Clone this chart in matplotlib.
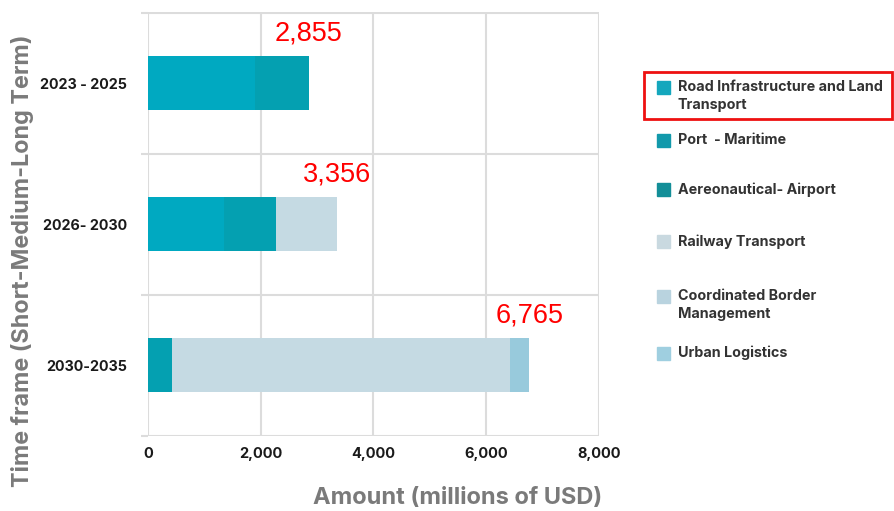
import matplotlib
matplotlib.use("Agg")
import matplotlib.pyplot as plt
from matplotlib.patches import Rectangle
import numpy as np

# Investment timeframes and amounts per sector (millions of USD)
periods = ["2023 - 2025", "2026- 2030", "2030-2035"]
sectors = [
    "Road Infrastructure and Land\nTransport",
    "Port  - Maritime",
    "Aereonautical- Airport",
    "Railway Transport",
    "Coordinated Border\nManagement",
    "Urban Logistics",
]
road = [1900, 1340, 0]
port = [955, 935, 430]
airport = [0, 0, 0]
railway = [0, 1081, 5990]
border = [0, 0, 0]
urban = [0, 0, 345]
totals = [2855, 3356, 6765]
x_ticks = [0, 2000, 4000, 6000, 8000]

bar_colors = ["#00a9c1", "#04a0b1", "#0f8f9a", "#c5dae3", "#b5d3e2", "#98cadc"]
legend_colors = ["#14a7bd", "#1299ab", "#138e98", "#c9d9e0", "#b9d3df", "#9fcfe0"]

fig = plt.figure(figsize=(8.94, 5.11), dpi=100)
W, H = 894, 511
ax = fig.add_axes([148 / W, 1 - 435.5 / H, (599 - 148) / W, (435.5 - 12.5) / H])

series = [road, port, airport, railway, border, urban]
y = np.arange(len(periods))
left = np.zeros(len(periods))
for vals, col in zip(series, bar_colors):
    vals = np.array(vals, dtype=float)
    ax.barh(y, vals, left=left, height=0.39, color=col, edgecolor="none", zorder=3)
    left += vals

for i, t in enumerate(totals):
    ax.text(t, i - 0.35, f"{t:,}", color="#ff0000", fontsize=19.5,
            family="Liberation Sans", ha="center", va="center", zorder=4)

ax.set_xlim(0, 8000)
ax.set_ylim(2.5, -0.5)
ax.set_xticks(x_ticks)
ax.set_xticklabels([f"{v:,}" for v in x_ticks], fontsize=10.5,
                   fontweight="bold", family="Inter", color="#1a1a1a")
ax.set_yticks(y)
ax.set_yticklabels(periods, fontsize=10.3, fontweight="bold",
                   family="Inter", color="#1a1a1a")
ax.set_yticks([-0.5, 0.5, 1.5, 2.5], minor=True)
ax.tick_params(axis="x", length=0, pad=8)
ax.tick_params(axis="y", which="major", length=0, pad=15)
ax.tick_params(axis="y", which="minor", length=5, color="#dcdcdc", width=1.5)

for s in ax.spines.values():
    s.set_visible(False)
ax.grid(axis="x", color="#dcdcdc", linewidth=1.5, zorder=0)
ax.grid(axis="y", which="minor", color="#dcdcdc", linewidth=1.5, zorder=0)
ax.grid(axis="y", which="major", visible=False)

ax.set_xlabel("Amount (millions of USD)", fontsize=17, fontweight="bold",
              family="Inter", color="#7a7a7a", va="center")
ax.xaxis.set_label_coords((458 - 148) / 451, -(498 - 435.5) / 423)
ax.set_ylabel("Time frame (Short-Medium-Long Term)", fontsize=16.8,
              fontweight="bold", family="Inter", color="#7a7a7a", va="center")
ax.yaxis.set_label_coords((22 - 148) / 451, (435.5 - 261) / 423)

# Legend drawn at fixed figure positions
legend_y = [96, 140, 190, 242, 305, 353]
for name, col, ly in zip(sectors, legend_colors, legend_y):
    nlines = name.count("\n") + 1
    sq_y = ly - (nlines - 1) * 8.5
    fig.patches.append(Rectangle((657 / W, 1 - (sq_y + 6.5) / H), 13 / W, 13 / H,
                                 transform=fig.transFigure, color=col))
    fig.text(678 / W, 1 - ly / H, name, fontsize=10.3, fontweight="bold",
             family="Inter", color="#333333", va="center", ha="left",
             linespacing=1.4)

fig.patches.append(Rectangle((644 / W, 1 - 119 / H), (892 - 644) / W, (119 - 72) / H,
                             transform=fig.transFigure, fill=False,
                             edgecolor="#ee1111", linewidth=2))

fig.savefig("out.png", dpi=100)
